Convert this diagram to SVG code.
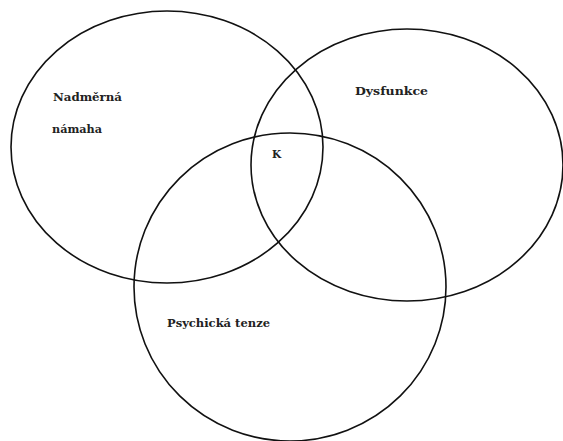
<svg xmlns="http://www.w3.org/2000/svg" width="563" height="441" viewBox="0 0 563 441">
<style>
.c{fill:none;stroke:#111;stroke-width:1.6}
.t{font-family:"DejaVu Serif","Liberation Serif",serif;font-size:10.5px;font-weight:bold;fill:#222}
</style>
<rect width="563" height="441" fill="#fff"/>
<g id="connectors"/>
<g id="nadmerna"><ellipse class="c" cx="167" cy="147" rx="156" ry="136"/>
<text class="t" x="53" y="101" textLength="69" lengthAdjust="spacingAndGlyphs">Nadměrná</text>
<text class="t" x="52" y="133" textLength="50" lengthAdjust="spacingAndGlyphs">námaha</text></g>
<g id="dysfunkce"><ellipse class="c" cx="407" cy="165" rx="156" ry="136"/>
<text class="t" x="355" y="95" textLength="73" lengthAdjust="spacingAndGlyphs">Dysfunkce</text></g>
<g id="psychicka"><ellipse class="c" cx="290" cy="287" rx="156" ry="154"/>
<text class="t" x="167" y="327" textLength="103" lengthAdjust="spacingAndGlyphs">Psychická tenze</text></g>
<g id="k"><text class="t" x="272" y="158">K</text></g>
</svg>
